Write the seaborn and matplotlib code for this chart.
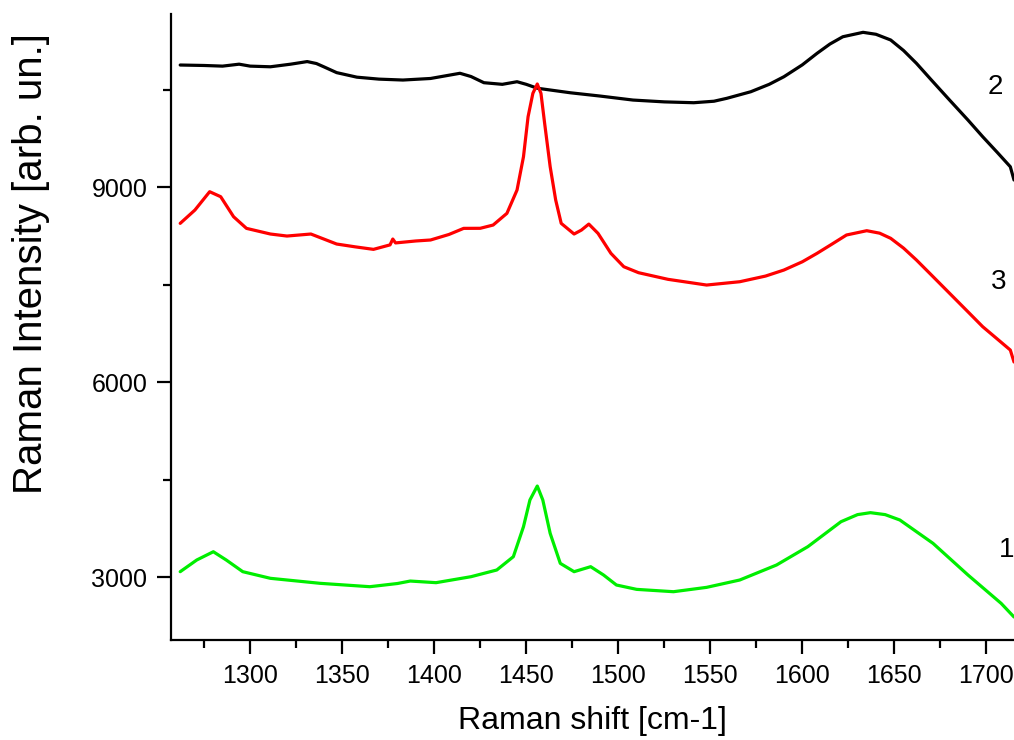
import matplotlib.pyplot as plt
import matplotlib.ticker as mticker
import pandas as pd
import seaborn as sns

# spectrum 2 (black)
shift_2 = [1262, 1275, 1285, 1294, 1300, 1311, 1322, 1331, 1336, 1340, 1347, 1358, 1370, 1383,
           1398, 1408, 1414, 1420, 1427, 1437, 1445, 1450, 1456, 1474, 1490, 1508, 1525, 1541,
           1552, 1559, 1572, 1582, 1590, 1600, 1608, 1615, 1622, 1633, 1640, 1648, 1655, 1662,
           1670, 1680, 1690, 1698, 1706, 1713, 1715]
intensity_2 = [10877, 10870, 10860, 10890, 10860, 10850, 10890, 10930, 10900, 10850, 10760, 10690,
               10660, 10646, 10670, 10720, 10750, 10700, 10605, 10580, 10620, 10580, 10520, 10450,
               10400, 10338, 10310, 10297, 10320, 10365, 10466, 10580, 10697, 10880, 11057, 11200,
               11312, 11380, 11350, 11262, 11100, 10903, 10650, 10338, 10030, 9774, 9530, 9312,
               9108]

# spectrum 3 (red)
shift_3 = [1262, 1270, 1278, 1284, 1291, 1298, 1311, 1320, 1333, 1340, 1347, 1357, 1367, 1376,
           1377.5, 1379, 1390, 1398, 1408, 1416, 1425, 1432, 1439.5, 1445, 1448.5, 1451, 1453.6,
           1456, 1458, 1460, 1463, 1466, 1469, 1476, 1480, 1484, 1489, 1496, 1503, 1511, 1527,
           1548, 1566, 1580, 1590, 1600, 1608, 1616, 1624, 1635, 1642, 1648, 1655, 1662, 1670,
           1680, 1690, 1698, 1706, 1713, 1715]
intensity_3 = [8441, 8646, 8928, 8851, 8543, 8364, 8277, 8246, 8277, 8200, 8123, 8080, 8041, 8110,
               8200, 8140, 8170, 8185, 8270, 8364, 8365, 8415, 8595, 8954, 9466, 10082, 10441,
               10585, 10441, 9979, 9313, 8800, 8441, 8277, 8338, 8430, 8287, 7980, 7774, 7682,
               7580, 7492, 7543, 7630, 7723, 7850, 7980, 8120, 8262, 8328, 8290, 8211, 8060, 7877,
               7650, 7365, 7080, 6851, 6660, 6492, 6308]

# spectrum 1 (green)
shift_1 = [1262, 1271, 1280, 1287, 1296, 1311, 1338, 1365, 1380, 1387, 1401, 1420, 1434, 1443,
           1448.5, 1452, 1456, 1459, 1463, 1468.5, 1476, 1485, 1492, 1499, 1510, 1530, 1548,
           1566, 1586, 1603, 1621, 1630, 1637, 1645, 1653, 1671, 1690, 1708, 1715]
intensity_1 = [3082, 3262, 3389, 3262, 3082, 2980, 2903, 2851, 2900, 2938, 2913, 3005, 3108, 3313,
               3774, 4185, 4400, 4185, 3672, 3210, 3082, 3159, 3031, 2877, 2810, 2774, 2841, 2954,
               3185, 3467, 3851, 3960, 3990, 3960, 3877, 3518, 3031, 2595, 2385]

curve_labels = ["2", "3", "1"]
label_x = [1705, 1706.5, 1711]
label_y = [10538, 7538, 3415]

sns.set_style("ticks")
plt.rcParams["font.family"] = ["Liberation Sans", "DejaVu Sans"]
plt.rcParams.update({"text.color": "black", "axes.labelcolor": "black",
                     "xtick.color": "black", "ytick.color": "black",
                     "axes.edgecolor": "black"})

fig = plt.figure(figsize=(10.14, 7.4), dpi=100)
ax = fig.add_axes([171 / 1014, 100 / 740, 843 / 1014, 626 / 740])

for xs, ys, color in [(shift_2, intensity_2, "black"),
                      (shift_3, intensity_3, "#ff0000"),
                      (shift_1, intensity_1, "#00ee00")]:
    df = pd.DataFrame({"shift": xs, "intensity": ys})
    sns.lineplot(data=df, x="shift", y="intensity", color=color, linewidth=2.3, ax=ax)

for t, lx, ly in zip(curve_labels, label_x, label_y):
    ax.text(lx, ly, t, fontsize=20, ha="center", va="center")

ax.set_xlim(1257, 1715)
ax.set_ylim(2031, 11662)
ax.xaxis.set_major_locator(mticker.MultipleLocator(50))
ax.xaxis.set_minor_locator(mticker.MultipleLocator(25))
ax.yaxis.set_major_locator(mticker.MultipleLocator(3000))
ax.yaxis.set_minor_locator(mticker.MultipleLocator(1500))
ax.tick_params(which="major", length=10, width=1.6, labelsize=18, direction="out", pad=7)
ax.tick_params(which="minor", length=6, width=1.6, direction="out")

for side in ["top", "right"]:
    ax.spines[side].set_visible(False)
for side in ["left", "bottom"]:
    ax.spines[side].set_linewidth(1.6)

ax.set_xlabel("Raman shift [cm-1]", fontsize=23)
ax.xaxis.set_label_coords(0.5, -0.105)
ax.set_ylabel("Raman Intensity [arb. un.]", fontsize=29)
ax.yaxis.set_label_coords(-0.143, 0.602)

fig.savefig("out.png", dpi=100)
